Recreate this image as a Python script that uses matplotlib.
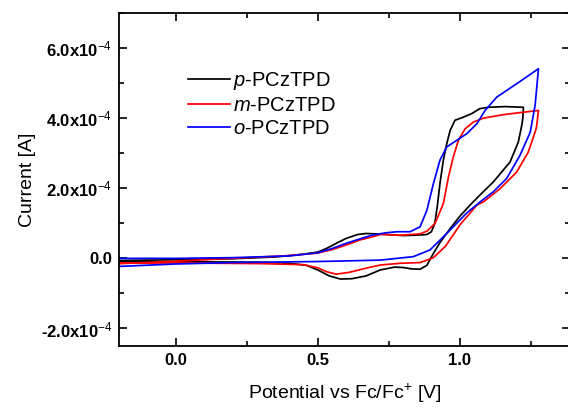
import matplotlib
matplotlib.use("Agg")
import numpy as np
import matplotlib.pyplot as plt
from matplotlib.ticker import MultipleLocator

plt.rcParams["font.family"] = ["Liberation Sans", "DejaVu Sans"]
plt.rcParams["mathtext.fontset"] = "custom"
plt.rcParams["mathtext.rm"] = "Liberation Sans"
plt.rcParams["mathtext.it"] = "Liberation Sans:italic"
plt.rcParams["mathtext.bf"] = "Liberation Sans:bold"

# ----------------------------
# data (current in units of 1e-4 A)
# forward scan then return scan for each film
# ----------------------------
p_x = [-0.2, 0.0, 0.2, 0.35, 0.45, 0.5, 0.53, 0.57, 0.6, 0.64, 0.67, 0.73, 0.8, 0.84, 0.866,
       0.884, 0.9, 0.912, 0.921, 0.93, 0.942, 0.954, 0.966, 0.983, 1.013, 1.042, 1.07, 1.1, 1.16, 1.224,
       1.222, 1.218, 1.206, 1.177, 1.118, 1.07, 1.036, 1.0, 0.966, 0.93, 0.907, 0.884, 0.86, 0.83,
       0.8, 0.77, 0.72, 0.67, 0.62, 0.58, 0.54, 0.5, 0.46, 0.4, 0.3, 0.1, -0.2]
p_y = [-0.06, -0.04, -0.01, 0.04, 0.12, 0.18, 0.28, 0.45, 0.57, 0.68, 0.71, 0.69, 0.65, 0.66, 0.67,
       0.68, 0.76, 1.0, 1.5, 2.13, 2.8, 3.27, 3.65, 3.94, 4.03, 4.13, 4.27, 4.31, 4.33, 4.31,
       4.0, 3.79, 3.32, 2.75, 2.18, 1.8, 1.52, 1.2, 0.85, 0.45, 0.14, -0.2, -0.31, -0.3,
       -0.26, -0.25, -0.33, -0.5, -0.58, -0.59, -0.5, -0.33, -0.2, -0.14, -0.11, -0.1, -0.1]

m_x = [-0.2, 0.0, 0.2, 0.4, 0.5, 0.55, 0.6, 0.65, 0.69, 0.72, 0.79, 0.86, 0.885, 0.913, 0.942,
       0.96, 0.977, 0.995, 1.019, 1.048, 1.083, 1.153, 1.224, 1.277,
       1.27, 1.265, 1.241, 1.2, 1.142, 1.083, 1.06, 1.0, 0.95, 0.907, 0.86, 0.79, 0.72, 0.67,
       0.61, 0.565, 0.53, 0.5, 0.45, 0.3, 0.0, -0.2]
m_y = [-0.15, -0.08, 0.0, 0.08, 0.15, 0.25, 0.38, 0.53, 0.61, 0.68, 0.66, 0.7, 0.78, 1.0, 1.56,
       2.32, 2.89, 3.37, 3.7, 3.89, 4.0, 4.1, 4.17, 4.22,
       3.74, 3.6, 3.03, 2.46, 1.99, 1.61, 1.52, 0.95, 0.35, 0.02, -0.12, -0.14, -0.19, -0.28,
       -0.4, -0.45, -0.38, -0.27, -0.18, -0.15, -0.13, -0.14]

o_x = [-0.2, 0.0, 0.2, 0.4, 0.5, 0.55, 0.6, 0.65, 0.69, 0.74, 0.78, 0.825, 0.86, 0.884, 0.907,
       0.93, 0.954, 0.99, 1.025, 1.06, 1.089, 1.13, 1.2, 1.277,
       1.265, 1.248, 1.212, 1.165, 1.118, 1.07, 1.025, 0.954, 0.895, 0.837, 0.72, 0.5, 0.2, 0.0, -0.2]
o_y = [0.0, 0.0, 0.02, 0.07, 0.16, 0.28, 0.43, 0.56, 0.66, 0.73, 0.76, 0.76, 0.9, 1.37, 2.13,
       2.8, 3.18, 3.37, 3.56, 3.84, 4.22, 4.6, 4.98, 5.41,
       4.36, 3.6, 2.94, 2.28, 1.9, 1.6, 1.3, 0.71, 0.24, 0.05, -0.05, -0.09, -0.12, -0.16, -0.23]

labels = [r"$\it{p}$-PCzTPD", r"$\it{m}$-PCzTPD", r"$\it{o}$-PCzTPD"]
colors = ["black", "#ff0000", "#0000ff"]

y_ticks = [-2e-4, 0.0, 2e-4, 4e-4, 6e-4]
x_ticks = [0.0, 0.5, 1.0]


def current_label(v):
    m = v * 1e4
    if abs(m) < 1e-9:
        return "0.0"
    return "%.1fx10" % m + r"$^{-4}$"


def main():
    fig = plt.figure(figsize=(5.68, 4.09), dpi=100)
    ax = fig.add_axes([119 / 568, 1 - 346 / 409, 451 / 568, 333 / 409])

    for xs, ys, lab, c in zip([p_x, m_x, o_x], [p_y, m_y, o_y], labels, colors):
        ax.plot(xs, np.array(ys) * 1e-4, color=c, lw=1.25, label=lab)

    ax.set_xlim(-0.2, 1.388)
    ax.set_ylim(-2.5e-4, 7.0e-4)

    ax.set_xticks(x_ticks, labels=["%.1f" % v for v in x_ticks], fontweight="bold")
    ax.xaxis.set_minor_locator(MultipleLocator(0.25))
    ax.set_yticks(y_ticks, labels=[current_label(v) for v in y_ticks], fontweight="bold")
    ax.yaxis.set_minor_locator(MultipleLocator(1e-4))

    ax.tick_params(which="both", direction="in", top=True, right=True, width=1.2,
                   labelsize=12, pad=5)
    ax.tick_params(which="major", length=6)
    ax.tick_params(which="minor", length=3.5)
    for s in ax.spines.values():
        s.set_linewidth(1.3)

    ax.set_xlabel(r"Potential vs Fc/Fc$^{+}$ [V]", fontsize=14, labelpad=10)
    ax.set_ylabel("Current [A]", fontsize=14, labelpad=3)

    ax.legend(loc="upper left", bbox_to_anchor=(0.153, 0.829), frameon=False, fontsize=14.5,
              handlelength=2.1, handletextpad=0.15, labelspacing=0.2, borderaxespad=0,
              borderpad=0)

    fig.savefig("out.png", dpi=100)


if __name__ == "__main__":
    main()
